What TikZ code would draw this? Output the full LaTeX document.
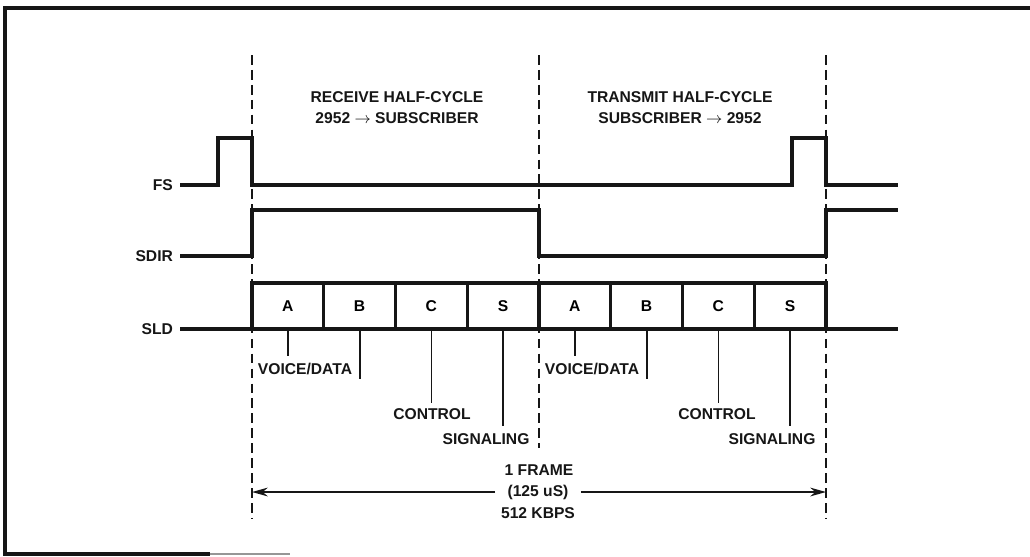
\documentclass[tikz,border=0pt]{standalone}
\usepackage{fontspec}
\setmainfont{Liberation Sans}
\usetikzlibrary{arrows.meta, positioning}
\definecolor{inkblack}{RGB}{22,22,22}

\tikzset{
  sig/.style={inkblack, line width=1.9pt, line join=miter},
  guide/.style={inkblack, line width=1.3pt, dash pattern=on 5.5pt off 3pt},
  slot/.style={draw=inkblack, line width=1.9pt, minimum width=1.435cm, minimum height=0.92cm, inner sep=0pt,
    font=\fontsize{8.9}{11.9}\selectfont\bfseries},
  lbl/.style={inkblack, font=\fontsize{8.9}{11.9}\selectfont\bfseries, inner sep=1pt, align=center},
  tick/.style={inkblack, line width=1pt},
  span/.style={inkblack, line width=0.9pt, -{Stealth[length=9pt, width=5pt]}},
}

\begin{document}
\begin{tikzpicture}[x=0.02cm, y=-0.02cm]
  \useasboundingbox (0,0) rectangle (1030,556);
  \draw[inkblack, line width=2.6pt] (1030,8) -- (5,8) -- (5,554) -- (210,554);
  \draw[inkblack!45, line width=1.6pt] (210,554) -- (290,554);

  % frame guides
  \draw[guide] (252,55) coordinate (g1) -- (252,518);
  \draw[guide] (539,55) coordinate (g2) -- (539,448);
  \draw[guide] (826,55) coordinate (g3) -- (826,518);

  \node[lbl] (rxhead) at (397,107.5) {RECEIVE HALF-CYCLE\\2952 $\rightarrow$ SUBSCRIBER};
  \node[lbl] (txhead) at (680,107.5) {TRANSMIT HALF-CYCLE\\SUBSCRIBER $\rightarrow$ 2952};

  % signals
  \node[lbl, anchor=east] (fs) at (175,185) {FS};
  \node[lbl, anchor=east] (sdir) at (175,256) {SDIR};
  \node[lbl, anchor=east] (sld) at (175,329) {SLD};

  \draw[sig] (180,185) -- (218,185) -- (218,138) -- (252,138) -- (252,185) -- (792,185)
    -- (792,138) -- (826,138) -- (826,185) -- (898,185);
  \draw[sig] (180,256) -- (252,256) -- (252,210) -- (539,210) -- (539,256) -- (826,256)
    -- (826,210) -- (898,210);
  \draw[sig] (180,329) -- (898,329);

  \foreach \n/\d [count=\i from 0] in {A/354, B/377, C/401, S/424}{
    \node[slot] (r\n) at (287.875+71.75*\i,306) {\n};
    \node[slot] (t\n) at (574.875+71.75*\i,306) {\n};
    \draw[tick] (r\n.south) -- ++(0,\d-329) coordinate (re\n);
    \draw[tick] (t\n.south) -- ++(0,\d-329) coordinate (te\n);
  }

  \node[lbl] (rvoice) at (305,369) {VOICE/DATA};
  \node[lbl] (rctl) at (432,414) {CONTROL};
  \node[lbl] (rsig) at (486,439) {SIGNALING};
  \node[lbl] (tvoice) at (592,369) {VOICE/DATA};
  \node[lbl] (tctl) at (717,414) {CONTROL};
  \node[lbl] (tsig) at (772,439) {SIGNALING};

  % frame length
  \node[lbl, inner xsep=0.24cm] (per) at (538,492) {(125 uS)};
  \node[lbl] (frm) at (539,470) {1 FRAME};
  \node[lbl] (rate) at (538,513) {512 KBPS};
  \draw[span] (per.west) -- (per.west -| g1);
  \draw[span] (per.east) -- (per.east -| g3);
\end{tikzpicture}
\end{document}
